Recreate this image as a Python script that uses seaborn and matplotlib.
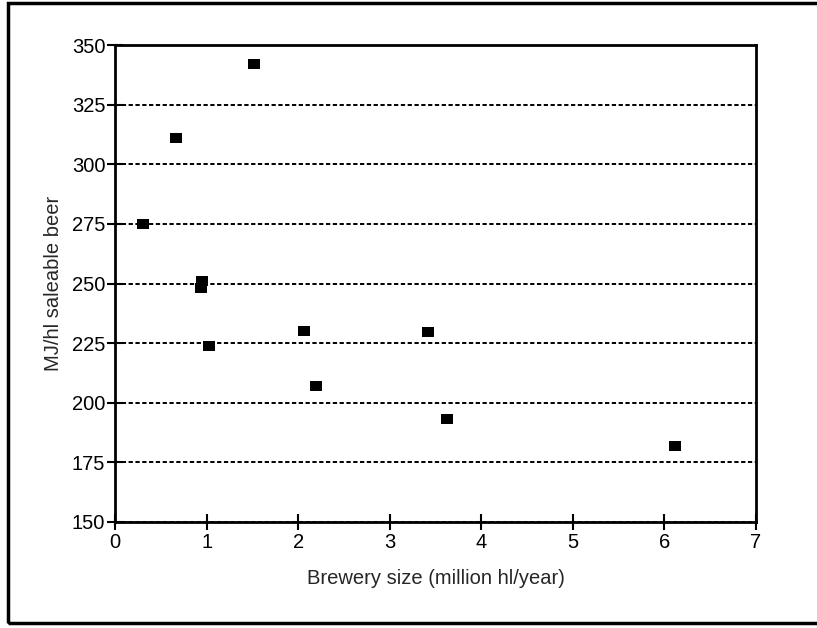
import matplotlib
matplotlib.use("Agg")
import matplotlib.pyplot as plt
import seaborn as sns
import pandas as pd
from matplotlib.patches import Rectangle

# brewery size (million hl/year) vs specific energy use (MJ/hl saleable beer)
brewery_size = [0.31, 0.67, 1.52, 0.95, 0.94, 1.03, 2.06, 2.19, 3.42, 3.63, 6.12]
energy_use = [275, 311, 342, 251, 248, 224, 230, 207, 229.5, 193, 182]
y_ticks = [150, 175, 200, 225, 250, 275, 300, 325, 350]
x_ticks = [0, 1, 2, 3, 4, 5, 6, 7]

df = pd.DataFrame({"size": brewery_size, "energy": energy_use})

sns.set_style("ticks")
plt.rcParams["font.family"] = ["Liberation Sans", "DejaVu Sans"]

fig = plt.figure(figsize=(8.17, 6.28), dpi=100)
ax = fig.add_axes([0.1408, 0.1688, 0.7845, 0.7595])

box = [(-1.3, -1), (1.3, -1), (1.3, 1), (-1.3, 1)]
sns.scatterplot(data=df, x="size", y="energy", ax=ax, marker=box, s=85,
                color="black", edgecolor="black", linewidth=0, zorder=3)

ax.set_xlim(0, 7)
ax.set_ylim(150, 350)
ax.set_xticks(x_ticks)
ax.set_yticks(y_ticks)
ax.yaxis.grid(True, color="black", linestyle=(0, (2.2, 1.3)), linewidth=1.4)
ax.xaxis.grid(False)

for sp in ax.spines.values():
    sp.set_color("black")
    sp.set_linewidth(2)

ax.tick_params(axis="both", direction="inout", length=12, width=1.5,
               colors="black", labelsize=14.5)
ax.tick_params(axis="y", pad=1)
ax.tick_params(axis="x", pad=2)

ax.set_xlabel("Brewery size (million hl/year)", fontsize=14.5, labelpad=12)
ax.set_ylabel("MJ/hl saleable beer", fontsize=14.5, labelpad=6)

# outer frame of the figure
fig.patches.append(Rectangle((8 / 817, 5 / 628), 1.2, 620 / 628, transform=fig.transFigure,
                             fill=False, edgecolor="black", linewidth=2.5))

fig.savefig("out.png", dpi=100)
